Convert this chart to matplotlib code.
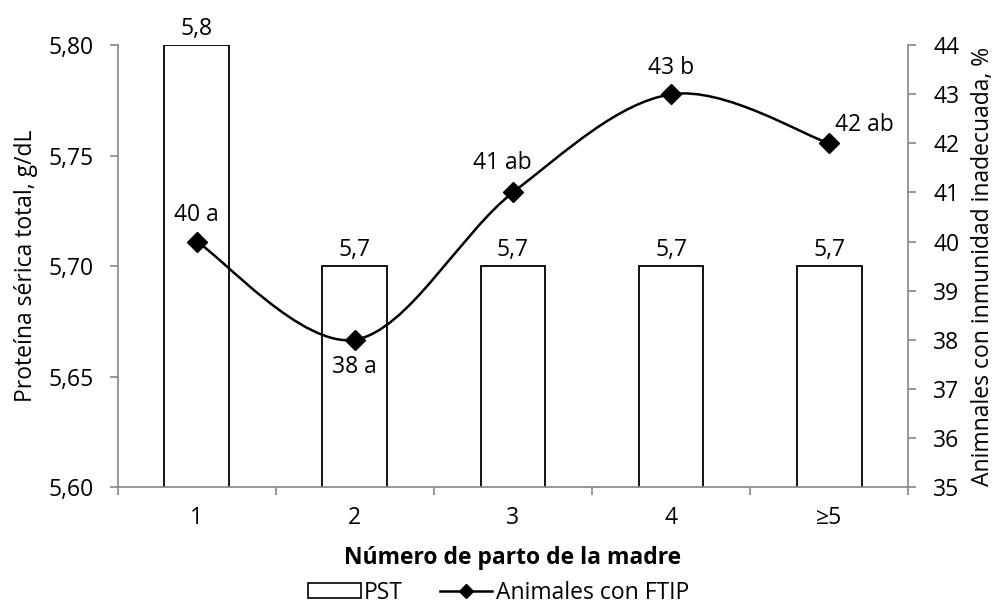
import numpy as np
import matplotlib.pyplot as plt
from matplotlib.path import Path
from matplotlib.patches import PathPatch, Patch
from matplotlib.lines import Line2D
from matplotlib.ticker import FixedLocator, FuncFormatter

plt.rcParams['font.family'] = ['Open Sans', 'DejaVu Sans']

# Données
partos = ['1', '2', '3', '4', '≥5']
pst = [5.8, 5.7, 5.7, 5.7, 5.7]          # Proteína sérica total, g/dL
ftip = [40, 38, 41, 43, 42]              # Animales con FTIP, %
letras = ['a', 'a', 'ab', 'b', 'ab']

gris = '#868686'
fs = 16.5

fig = plt.figure(figsize=(9.97, 6.11), dpi=100)
ax = fig.add_axes([0.118, 0.203, 0.793, 0.723])
x = np.arange(len(partos))

# Barres PST
barres = ax.bar(x, pst, width=0.41, color='white', edgecolor='black', linewidth=1.3, zorder=2)
ax.bar_label(barres, labels=[f'{v:.1f}'.replace('.', ',') for v in pst],
             padding=3, fontsize=fs)
ax.set_ylim(5.60, 5.80)
ax.set_xlim(-0.5, len(partos) - 0.5)
ax.set_yticks(np.arange(5.60, 5.801, 0.05))
ax.yaxis.set_major_formatter(FuncFormatter(lambda v, p: f'{v:.2f}'.replace('.', ',')))

# Axe x : graduations entre catégories, étiquettes au centre
ax.xaxis.set_major_locator(FixedLocator(np.arange(-0.5, len(partos), 1.0)))
ax.xaxis.set_major_formatter(FuncFormatter(lambda v, p: ''))
ax.set_xticks(x, partos, minor=True)
ax.tick_params(axis='x', which='major', length=6, color=gris, width=1.2)
ax.tick_params(axis='x', which='minor', length=0, labelsize=fs, pad=14)
ax.tick_params(axis='y', length=6, color=gris, width=1.2, labelsize=fs, pad=11)

for s in ['top', 'right']:
    ax.spines[s].set_visible(False)
for s in ['left', 'bottom']:
    ax.spines[s].set_color(gris)
    ax.spines[s].set_linewidth(1.2)

ax.set_ylabel('Proteína sérica total, g/dL', fontsize=fs, labelpad=8)
ax.set_xlabel('Número de parto de la madre', fontsize=fs, fontweight='bold', labelpad=11)

# Courbe FTIP (lissée)
ax2 = ax.twinx()
ax2.set_ylim(35, 44)
ax2.set_yticks(np.arange(35, 45, 1))
ax2.tick_params(axis='y', length=6, color=gris, width=1.2, labelsize=fs, pad=12)
for s in ['top', 'left', 'bottom']:
    ax2.spines[s].set_visible(False)
ax2.spines['right'].set_color(gris)
ax2.spines['right'].set_linewidth(1.2)
ax2.set_ylabel('Animnales con inmunidad inadecuada, %', fontsize=fs, labelpad=8)

pts = np.column_stack([x, ftip]).astype(float)
n = len(pts)
verts = [pts[0]]
for i in range(n - 1):
    p_prev = pts[max(i - 1, 0)]
    p_next = pts[min(i + 2, n - 1)]
    verts.append(pts[i] + (pts[i + 1] - p_prev) / 6)
    verts.append(pts[i + 1] - (p_next - pts[i]) / 6)
    verts.append(pts[i + 1])
codes = [Path.MOVETO] + [Path.CURVE4] * (3 * (n - 1))
ax2.add_patch(PathPatch(Path(verts, codes), fill=False, edgecolor='black', linewidth=1.8, zorder=3))
ax2.plot(x, ftip, linestyle='none', marker='D', markersize=10, color='black', zorder=4)

decalages = [(0, 19), (0, -20), (-8, 21), (0, 19), (25, 13)]
for xi, yi, l, d in zip(x, ftip, letras, decalages):
    ax2.annotate(f'{yi} {l}', (xi, yi), xytext=d, textcoords='offset points',
                 ha='center', va='center', fontsize=fs)

# Légende
poignees = [Patch(facecolor='white', edgecolor='black', linewidth=1.2),
            Line2D([], [], color='black', marker='D', markersize=7, linewidth=1.8)]
fig.legend(poignees, ['PST', 'Animales con FTIP'], loc='center', bbox_to_anchor=(0.5, 0.03),
           ncol=2, frameon=False, fontsize=fs, handlelength=2.3, handleheight=0.6,
           handletextpad=0.15, columnspacing=1.6)

fig.savefig('out.png', dpi=100)
